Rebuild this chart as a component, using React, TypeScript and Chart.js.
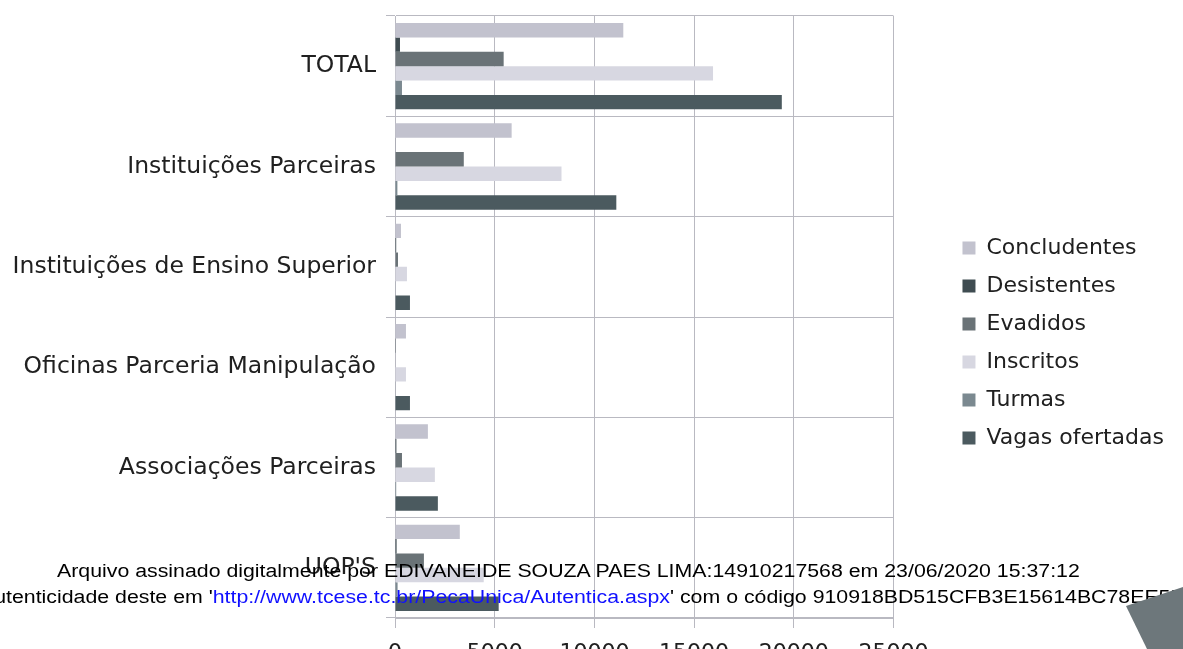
import React, { useEffect, useRef } from "react";
import { Chart, registerables } from "chart.js";

Chart.register(...registerables);

const categories = [
  "TOTAL",
  "Instituições Parceiras",
  "Instituições de Ensino Superior",
  "Oficinas Parceria Manipulação",
  "Associações Parceiras",
  "UOP'S",
];
const concludentes = [11450, 5850, 300, 550, 1650, 3250];
const desistentes = [250, 30, 60, 10, 70, 80];
const evadidos = [5450, 3450, 150, 0, 350, 1450];
const inscritos = [15950, 8350, 600, 550, 2000, 4450];
const turmas = [350, 120, 20, 20, 60, 130];
const vagasOfertadas = [19400, 11100, 750, 750, 2150, 5200];
const xTicks = [0, 5000, 10000, 15000, 20000, 25000];

const seriesNames = ["Concludentes", "Desistentes", "Evadidos", "Inscritos", "Turmas", "Vagas ofertadas"];
const seriesValues = [concludentes, desistentes, evadidos, inscritos, turmas, vagasOfertadas];
const seriesColors = ["#c2c2ce", "#3f4c51", "#6a7377", "#d7d7e1", "#7b8990", "#4b5a5f"];

const W = 1183;
const H = 680;
const GRID = "#b9b9c1";
const TEXT = "#202020";
const LEGEND_GAP = 53;

const legendGap = {
  id: "legendGap",
  beforeLayout(chart: any) {
    const lg = chart.legend;
    if (lg && !lg.__gapPatched) {
      const orig = lg.fit;
      lg.fit = function (this: any) {
        orig.call(this);
        this.width += LEGEND_GAP;
      };
      lg.__gapPatched = true;
    }
  },
  afterLayout(chart: any) {
    const lg = chart.legend;
    if (lg) lg.left += LEGEND_GAP;
  },
};

export default function App() {
  const ref = useRef<HTMLCanvasElement | null>(null);

  useEffect(() => {
    if (!ref.current) return;
    const chart = new Chart(ref.current, {
      type: "bar",
      data: {
        labels: categories,
        datasets: seriesNames.map((name, i) => ({
          label: name,
          data: seriesValues[i],
          backgroundColor: seriesColors[i],
          borderWidth: 0,
          categoryPercentage: 0.86,
          barPercentage: 1,
        })),
      },
      plugins: [legendGap],
      options: {
        indexAxis: "y",
        responsive: false,
        animation: false,
        layout: { padding: { top: 16, right: 9, left: 0, bottom: 10 } },
        plugins: {
          tooltip: { enabled: false },
          legend: {
            position: "right",
            align: "center",
            labels: {
              boxWidth: 13,
              boxHeight: 13,
              padding: 16,
              color: TEXT,
              font: { family: "DejaVu Sans", size: 22 },
            },
          },
        },
        scales: {
          x: {
            type: "linear",
            min: 0,
            max: 25000,
            afterBuildTicks: (s: any) => {
              s.ticks = xTicks.map((v) => ({ value: v }));
            },
            ticks: {
              color: TEXT,
              padding: 12,
              font: { family: "DejaVu Sans", size: 22 },
              callback: (v: any) => String(v),
            },
            grid: { color: GRID, tickLength: 10 },
            border: { color: GRID },
            afterFit: (s: any) => {
              s.height = 52;
              s.paddingLeft = 0;
              s.paddingRight = 0;
            },
          },
          y: {
            type: "category",
            grid: { color: GRID, tickLength: 9, offset: true },
            border: { color: GRID },
            ticks: {
              color: TEXT,
              padding: 10,
              font: { family: "DejaVu Sans", size: 23.5 },
            },
            afterFit: (s: any) => {
              s.width = 395;
              s.paddingTop = 0;
              s.paddingBottom = 0;
            },
          },
        },
      },
    });
    return () => chart.destroy();
  }, []);

  const wm: React.CSSProperties = {
    position: "absolute",
    whiteSpace: "nowrap",
    font: '18px "Liberation Sans", Arial, sans-serif',
    color: "#000",
    transform: "scaleX(1.184)",
    transformOrigin: "0 0",
  };

  return (
    <div
      style={{
        position: "absolute",
        left: 0,
        top: 0,
        width: W,
        height: 649,
        overflow: "hidden",
        background: "#fff",
      }}
    >
      <canvas ref={ref} width={W} height={H} style={{ position: "absolute", left: 0, top: 0 }} />
      <div style={{ ...wm, left: 57, top: 561 }}>
        Arquivo assinado digitalmente por EDIVANEIDE SOUZA PAES LIMA:14910217568 em 23/06/2020 15:37:12
      </div>
      <div style={{ ...wm, left: -20, top: 587 }}>
        Autenticidade deste em '<span style={{ color: "#1010ff" }}>http://www.tcese.tc.br/PecaUnica/Autentica.aspx</span>' com o código 910918BD515CFB3E15614BC78EE5B
      </div>
      <svg
        width={W}
        height={649}
        style={{ position: "absolute", left: 0, top: 0, pointerEvents: "none" }}
      >
        <polygon points="1126,606 1183,587 1183,649 1147,649" fill="#6d777b" />
      </svg>
    </div>
  );
}
